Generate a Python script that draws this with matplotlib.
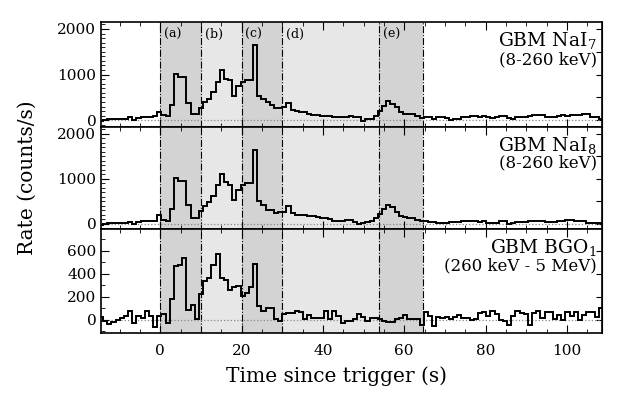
import numpy as np
import matplotlib
matplotlib.use("Agg")
import matplotlib.pyplot as plt
from matplotlib.ticker import MultipleLocator, NullLocator

plt.rcParams['font.family'] = 'DejaVu Serif'
plt.rcParams['mathtext.fontset'] = 'dejavuserif'

# 1.024 s bins, first edge / bin width
t_first = -15.06
bin_w = 1.024

nai7 = [-20, 15, 20, 30, 30, 35, 35, 60, 15, 50, 70, 70, 80, 85, 180,
        125, 85, 330, 1005, 945, 940, 380, 130, 130, 270, 400, 476, 620, 840, 1100,
        900, 890, 540, 740, 840, 890, 890, 1650, 530, 475, 400, 330, 270, 260, 300,
        380, 225, 200, 185, 185, 140, 120, 110, 95, 88, 88, 65, 60, 70, 75, 95, 60, 60, -20, 20,
        25, 88, 205, 315, 420, 365, 280, 185, 130, 145, 140, 88, 50, 70,
        60, 37, 70, 70, 50, 0, 20, 37, 70, 70,
        100, 85, 80, 90, 60, 55, 65, 85, 90, 40, 35, 70, 75, 80, 90, 110,
        120, 115, 75, 70, 80, 100, 105, 95, 110, 115, 120, 140, 145, 75, 70, 35]

nai8 = [-20, -15, 10, 10, 15, 20, 20, 30, 0, 45, 50, 50, 55, 55, 200,
        90, 50, 330, 1015, 950, 940, 420, 125, 125, 290, 400, 480, 606, 850, 1110,
        925, 866, 530, 740, 866, 900, 900, 1644, 511, 420, 311, 311, 237, 260, 260,
        385, 237, 200, 200, 190, 163, 163, 150, 125, 125, 110, 67, 67, 67, 90, 90, 40, 0, 10, 40,
        50, 125, 210, 320, 420, 360, 270, 180, 140, 130, 120, 80, 60, 50,
        45, 30, 15, 15, 20, 35, 40, 35, 60, 65, 50, 50, 45, 55, 15, 15, 20, 65, 60, 0,
        5, 35, 40, 35, 50, 55, 60, 65, 40, 35, 45, 50, 60, 75, 70, 55, 50, 60, 20, 15,
        10, 25]

bgo = [23, -12, -35, -17, 0, 17, 32, 75, -26, 32, 17, 75, 35, -65, 30,
       50, -30, 185, 465, 478, 538, 85, 125, 5, 225, 336, 360, 481, 574, 365,
       342, 255, 284, 293, 206, 235, 284, 487, 119, 75, 99, 99, 9, -12, 49,
       61, 61, 75, 70, 3, 40, 17, 17, 17, 75, 3, 75, 32, -26, -12, -12, 3, 52, 23, -12,
       12, 12, 3, -12, -17, -17, 3, 17, 40, 3, 3, 3, -45, 70, 30, -55,
       25, 15, 20, 10, 20, 43, 14, 14, 0, 5, 56, 66, 37, 78, 50, 0, -14, -43, 37, 78,
       56, 50, -43, 56, 78, 14, 66, 66, 8, 43, 0, 66, 37, 66, 0, 43, 66, 66, 20, 100]

# intervals (a)-(e)
intervals = [(0, 10), (10, 20), (20, 30), (30, 53.8), (53.8, 64.6)]
interval_names = ['(a)', '(b)', '(c)', '(d)', '(e)']
interval_shade = ['#d3d3d3', '#e7e7e7', '#d3d3d3', '#e7e7e7', '#d3d3d3']

panel_names = ['GBM NaI$_7$', 'GBM NaI$_8$', 'GBM BGO$_1$']
panel_bands = ['(8-260 keV)', '(8-260 keV)', '(260 keV - 5 MeV)']
ylims = [(-150, 2150), (-120, 2150), (-115, 790)]
ymajor = [1000, 1000, 200]
yright = [500, 500, 200]

edges = t_first + bin_w * np.arange(len(nai7) + 1)

fig, axes = plt.subplots(3, 1, sharex=True, figsize=(6.25, 3.95), dpi=100,
                         gridspec_kw=dict(height_ratios=[105, 102, 104], hspace=0))
fig.subplots_adjust(left=0.162, right=0.963, top=0.944, bottom=0.157)

for i, (ax, rates) in enumerate(zip(axes, [nai7, nai8, bgo])):
    for (t0, t1), c in zip(intervals, interval_shade):
        ax.axvspan(t0, t1, color=c, lw=0, zorder=0)
    for t0, t1 in intervals:
        ax.axvline(t0, color='k', lw=0.8, ls='-.', zorder=1)
    ax.axvline(intervals[-1][1], color='k', lw=0.8, ls='-.', zorder=1)
    ax.axhline(0, color='#888888', lw=0.9, ls=':', zorder=1)
    ax.stairs(rates, edges, baseline=None, color='k', lw=1.4, zorder=2)

    ax.set_xlim(-14.5, 108.6)
    ax.set_ylim(*ylims[i])
    ax.yaxis.set_major_locator(MultipleLocator(ymajor[i]))
    ax.yaxis.set_minor_locator(MultipleLocator(100))
    ax.xaxis.set_major_locator(MultipleLocator(20))
    ax.xaxis.set_minor_locator(MultipleLocator(5))
    ax.tick_params(which='both', direction='in', top=True, right=False, labelsize=11)
    ax.tick_params(which='major', length=6)
    ax.tick_params(which='minor', length=3)
    ax.tick_params(axis='x', pad=8)
    for s in ax.spines.values():
        s.set_linewidth(1.2)

    sec = ax.secondary_yaxis('right')
    sec.set_yticks(np.arange(0, ylims[i][1], yright[i]))
    sec.yaxis.set_minor_locator(NullLocator())
    sec.tick_params(direction='in', length=4, labelright=False)

    ax.text(0.99, 0.77, panel_names[i], transform=ax.transAxes, ha='right',
            va='baseline', fontsize=13.5)
    ax.text(0.99, 0.60, panel_bands[i], transform=ax.transAxes, ha='right',
            va='baseline', fontsize=12)

for (t0, t1), name in zip(intervals, interval_names):
    axes[0].text(t0 + 0.9, 0.94, name, transform=axes[0].get_xaxis_transform(),
                 ha='left', va='top', fontsize=9)

axes[2].set_xlabel('Time since trigger (s)', fontsize=14.5)
axes[2].xaxis.set_label_coords(0.47, -0.325)
fig.text(0.043, 0.55, 'Rate (counts/s)', rotation=90, ha='center', va='center',
         fontsize=14.5)

fig.savefig('out.png', dpi=100)
